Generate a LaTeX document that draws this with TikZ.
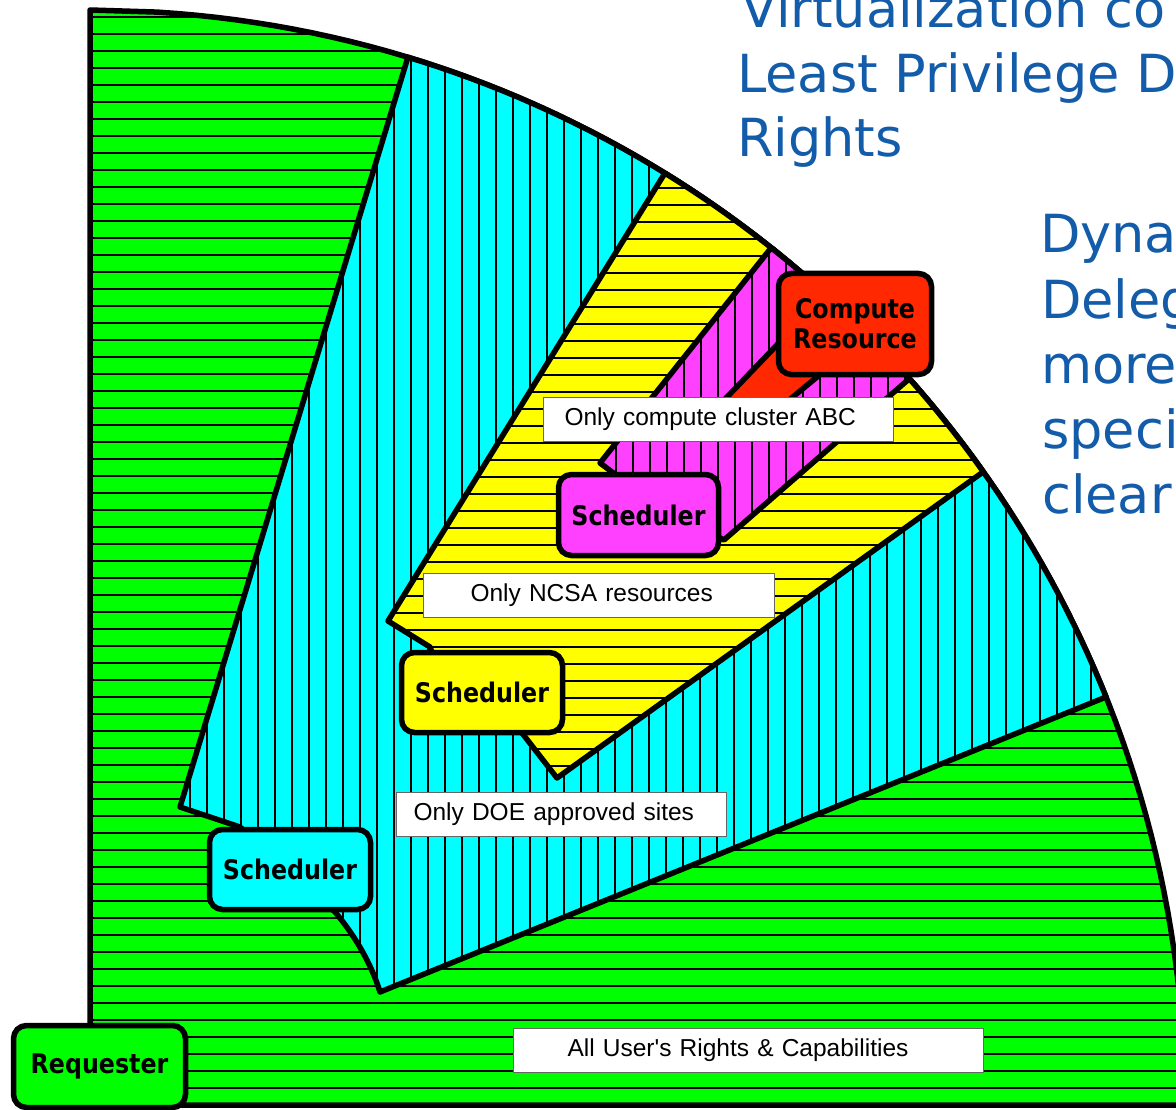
\documentclass[tikz,border=0pt]{standalone}
\usepackage{fontspec}
\setmainfont{DejaVu Sans}
\newfontfamily\lblfont{Liberation Sans}
\newfontfamily\nodefont{DejaVu Sans}[FakeStretch=0.88]
\definecolor{cgreen}{RGB}{0,255,0}
\definecolor{ccyan}{RGB}{0,255,255}
\definecolor{cyellow}{RGB}{255,255,0}
\definecolor{cmag}{RGB}{255,64,255}
\definecolor{cred}{RGB}{255,40,0}
\definecolor{tblue}{RGB}{18,92,170}
\tikzset{
  region/.style={draw=black, line width=5.5pt, line join=round},
  hatchline/.style={draw=black, line width=1.4pt},
  sched/.style={draw=black, line width=5.5pt, rounded corners=13pt, inner sep=0pt,
    font=\nodefont\fontsize{27}{30}\selectfont\bfseries, align=center},
  lbl/.style={draw=black!60, line width=1pt, fill=white,
    font=\lblfont\fontsize{24.5}{28}\selectfont, align=left, inner ysep=0pt,
    minimum height=44pt, anchor=west},
  bigtxt/.style={text=tblue, font=\fontsize{52.5}{62}\selectfont, inner sep=0pt, anchor=base west},
}
\begin{document}
\begin{tikzpicture}[x=1pt,y=-1pt]
\useasboundingbox (0,0) rectangle (1176,1110);
\clip (0,0) rectangle (1176,1110);
\fill[white] (0,0) rectangle (1176,1110);

% paths
\path[save path=\PG] (90,1105) -- (90,10) -- plot[domain=-86.5:-5, samples=80, variable=\t] ({90+1095*cos(\t)},{1105+1095*sin(\t)}) -- (1190,1105) -- cycle;
\path[save path=\PC] (408,57) -- (180,807) -- (240,827) -- (300,880) -- (335,912) .. controls (352,932) and (370,960) .. (380,992) -- (1106,697) -- plot[domain=-21.84:-73.1, samples=60, variable=\t] ({90+1095*cos(\t)},{1105+1095*sin(\t)}) -- cycle;
\path[save path=\PY] (665,173) -- (388,621) -- (430,647) -- (450,700) -- (522,733) -- (557,778) -- (983,472) -- plot[domain=-35.33:-58.3, samples=30, variable=\t] ({90+1095*cos(\t)},{1105+1095*sin(\t)}) -- cycle;
\path[save path=\PM] (771,248) -- (600,463) -- (612,472) -- (650,500) -- (724,540) -- (909,379) -- plot[domain=-41.55:-51.5, samples=15, variable=\t] ({90+1095*cos(\t)},{1105+1095*sin(\t)}) -- cycle;

% green
\fill[cgreen, use path=\PG];
\begin{scope}
\clip[use path=\PG];
\foreach \yy in {17,34,...,1105} \draw[hatchline] (80,\yy) -- (1190,\yy);
\end{scope}
\draw[region, use path=\PG];

% cyan
\fill[ccyan, use path=\PC];
\begin{scope}
\clip[use path=\PC];
\foreach \xx in {173,190,...,1190} \draw[hatchline] (\xx,40) -- (\xx,1000);
\end{scope}
\draw[region, use path=\PC];

% yellow
\fill[cyellow, use path=\PY];
\begin{scope}
\clip[use path=\PY];
\foreach \yy in {188,205,...,790} \draw[hatchline] (380,\yy) -- (1000,\yy);
\end{scope}
\draw[region, use path=\PY];

% magenta
\fill[cmag, use path=\PM];
\begin{scope}
\clip[use path=\PM];
\foreach \xx in {599,616,...,920} \draw[hatchline] (\xx,240) -- (\xx,560);
\end{scope}
\draw[region, use path=\PM];

% red wedge
\filldraw[region, fill=cred] (800,320) -- (775,347) -- (705,420) -- (765,420) -- (817,377) -- cycle;

% labels
\node[lbl, inner xsep=21pt, text width=308pt] (l1) at (543,419) {Only compute cluster ABC};
\node[lbl, inner xsep=47pt, text width=257pt] (l2) at (423,595) {Only NCSA resources};
\node[lbl, inner xsep=17pt, text width=296pt] (l3) at (396,814.5) {Only DOE approved sites};
\node[lbl, inner xsep=54pt, text width=362pt] (l4) at (513,1050) {All User\textquotesingle s Rights \& Capabilities};

% nodes
\node[sched, fill=ccyan, minimum width=161pt, minimum height=80pt] (s1) at (290,869.5) {Scheduler};
\node[sched, fill=cyellow, minimum width=161pt, minimum height=80pt] (s2) at (482,692.5) {Scheduler};
\node[sched, fill=cmag, minimum width=160pt, minimum height=81pt] (s3) at (638.5,515) {Scheduler};
\node[sched, fill=cred, minimum width=153pt, minimum height=101pt] (cr) at (855,324) {Compute\\Resource};
\node[sched, fill=cgreen, minimum width=172pt, minimum height=82pt] (rq) at (99.5,1066.5) {Requester};

% right texts
\node[bigtxt] (t1) at (741,28) {Virtualization co};
\node[bigtxt] (t2) at (737,93) {Least Privilege D};
\node[bigtxt] (t3) at (737,157) {Rights};
\node[bigtxt] (t4) at (1040,253) {Dyna};
\node[bigtxt] (t5) at (1041,318) {Deleg};
\node[bigtxt] (t6) at (1041,383) {more};
\node[bigtxt] (t7) at (1042,448) {speci};
\node[bigtxt] (t8) at (1042,513) {clear};
\end{tikzpicture}
\end{document}
